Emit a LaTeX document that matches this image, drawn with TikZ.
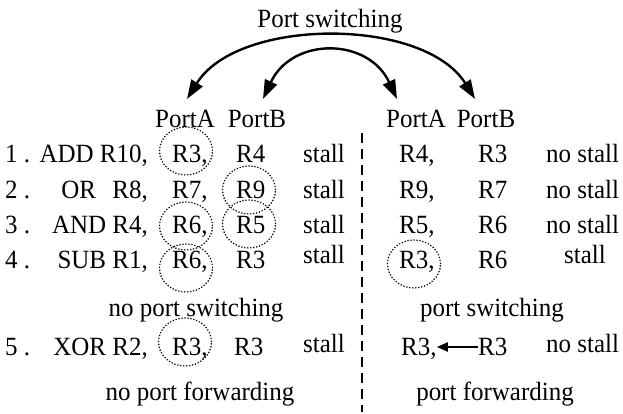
\documentclass[tikz,border=0pt]{standalone}
\usepackage{fontspec}
\setmainfont{Liberation Serif}[FakeStretch=0.95]
\usetikzlibrary{arrows.meta,shapes.geometric}
\tikzset{
  lbl/.style={inner sep=0pt, anchor=base west, font=\fontsize{26.3}{30}\selectfont},
  lblr/.style={lbl, anchor=base east},
  lblc/.style={lbl, anchor=base},
  ring/.style={draw, ellipse, minimum width=53pt, minimum height=48pt, inner sep=0pt,
    line width=1.2pt, dash pattern=on 1.3pt off 1.7pt},
  sep/.style={line width=1.3pt, dash pattern=on 10pt off 6pt},
  swarc/.style={line width=2.4pt, {Triangle[length=19pt,width=13pt]}-{Triangle[length=19pt,width=13pt]}},
  fwd/.style={line width=2pt, -{Triangle[length=11pt,width=9pt]}},
}
\begin{document}
\begin{tikzpicture}[x=1pt,y=-1pt]
\useasboundingbox (0,0) rectangle (623,414);
% title and switching arrows
\node[lblc] (title) at (330,28) {Port switching};
\coordinate (tA1) at (187,99);
\coordinate (tB1) at (263,99);
\coordinate (tA2) at (397,99);
\coordinate (tB2) at (475,99);
\draw[swarc] (tA1) .. controls (238,17) and (424,17) .. (tB2);
\draw[swarc] (tB1) .. controls (292,37) and (368,37) .. (tA2);
% headers
\node[lblc] (hA1) at (185,128) {PortA};
\node[lblc] (hB1) at (257,128) {PortB};
\node[lblc] (hA2) at (416,128) {PortA};
\node[lblc] (hB2) at (486,128) {PortB};
% separator
\coordinate (dtop) at (362,133);
\coordinate (dbot) at (362,412);
\draw[sep] (dtop) -- (dbot);
% row 1
\node[lbl]  (n1) at (5,163) {1 .};
\node[lblr] (i1) at (148,163) {ADD R10,};
\node[lbl]  (a1) at (172,163) {R3,};
\node[lbl]  (b1) at (236,163) {R4};
\node[lbl]  (s1) at (303,163) {stall};
\node[lbl]  (ra1) at (399,163) {R4,};
\node[lbl]  (rb1) at (478,163) {R3};
\node[lbl]  (rs1) at (546,163) {no stall};
% row 2
\node[lbl]  (n2) at (5,198) {2 .};
\node[lblr] (i2) at (148,198) {OR\hspace{10pt} R8,};
\node[lbl]  (a2) at (172,198) {R7,};
\node[lbl]  (b2) at (236,198) {R9};
\node[lbl]  (s2) at (303,198) {stall};
\node[lbl]  (ra2) at (399,198) {R9,};
\node[lbl]  (rb2) at (478,198) {R7};
\node[lbl]  (rs2) at (546,198) {no stall};
% row 3
\node[lbl]  (n3) at (5,233) {3 .};
\node[lblr] (i3) at (148,233) {AND R4,};
\node[lbl]  (a3) at (172,233) {R6,};
\node[lbl]  (b3) at (236,233) {R5};
\node[lbl]  (s3) at (303,233) {stall};
\node[lbl]  (ra3) at (399,233) {R5,};
\node[lbl]  (rb3) at (478,233) {R6};
\node[lbl]  (rs3) at (546,233) {no stall};
% row 4
\node[lbl]  (n4) at (5,268) {4 .};
\node[lblr] (i4) at (148,268) {SUB R1,};
\node[lbl]  (a4) at (172,268) {R6,};
\node[lbl]  (b4) at (236,268) {R3};
\node[lbl]  (s4) at (303,263) {stall};
\node[lbl]  (ra4) at (399,268) {R3,};
\node[lbl]  (rb4) at (478,268) {R6};
\node[lblc] (rs4) at (585,263) {stall};
% captions
\node[lblc] (cap1) at (196,316) {no port switching};
\node[lblc] (cap2) at (492,316) {port switching};
% row 5
\node[lbl]  (n5) at (5,355) {5 .};
\node[lblr] (i5) at (148,355) {XOR R2,};
\node[lbl]  (a5) at (172,355) {R3,};
\node[lbl]  (b5) at (234,355) {R3};
\node[lbl]  (s5) at (303,352) {stall};
\node[lbl]  (ra5) at (401,355) {R3,};
\node[lbl]  (rb5) at (478,355) {R3};
\node[lbl]  (rs5) at (546,352) {no stall};
\draw[fwd] (rb5.west |- 0,347) -- (ra5.east |- 0,347);
\node[lblc] (cap3) at (200,400) {no port forwarding};
\node[lblc] (cap4) at (495,400) {port forwarding};
% dotted rings
\node[ring] (c1) at (186,151) {};
\node[ring] (c2) at (249,190) {};
\node[ring] (c3) at (186,226) {};
\node[ring] (c4) at (249,224) {};
\node[ring] (c5) at (186,268) {};
\node[ring] (c6) at (414,264) {};
\node[ring] (c7) at (185,342) {};
\end{tikzpicture}
\end{document}
